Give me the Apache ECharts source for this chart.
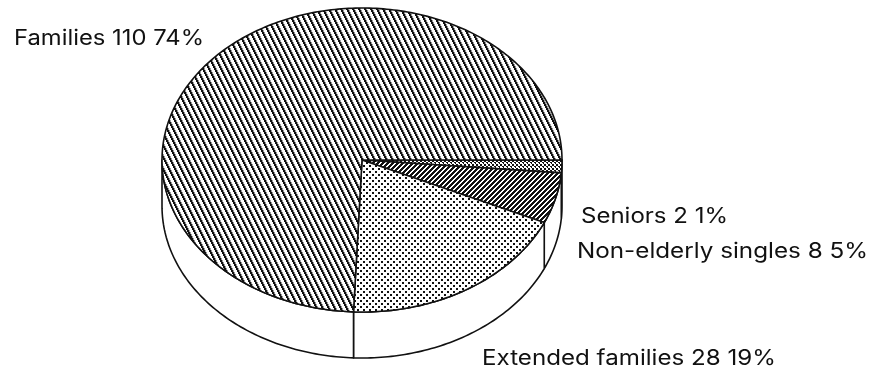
<!DOCTYPE html>
<html>
<head>
<meta charset="utf-8">
<style>html,body{margin:0;padding:0;background:#fff}#c{width:877px;height:372px}</style>
<script src="https://cdn.jsdelivr.net/npm/echarts@6/dist/echarts.min.js"></script>
</head>
<body>
<div id="c"></div>
<script>
const categories = ['Seniors', 'Non-elderly singles', 'Extended families', 'Families'];
const values = [2, 8, 28, 110];
const percents = ['1%', '5%', '19%', '74%'];

// layout
const CX = 362, CY = 160, RX = 200, RY = 152, DEPTH = 46;
const labelFont = 'Inter';
const labelSize = 21;
const labelBoxes = [
  {x: 581, y: 217, w: 147},
  {x: 577, y: 252, w: 291},
  {x: 482, y: 359, w: 294},
  {x: 14, y: 39, w: 190}
];

function tile(w, h, paint) {
  const c = document.createElement('canvas');
  c.width = w; c.height = h;
  const g = c.getContext('2d');
  g.fillStyle = '#fff'; g.fillRect(0, 0, w, h);
  g.fillStyle = '#111';
  paint(g);
  return {image: c, repeat: 'repeat'};
}
const patterns = [
  tile(4, 4, g => { g.fillRect(0, 0, 2, 2); g.fillRect(2, 2, 2, 1); g.fillRect(3, 3, 1, 1); }),
  tile(5, 5, g => { for (let y = 0; y < 5; y++) for (let k = 0; k < 3; k++) g.fillRect((4 - y + k) % 5, y, 1, 1); }),
  tile(6, 6, g => { g.fillRect(0, 0, 2, 2); g.fillRect(3, 3, 2, 2); }),
  tile(6, 12, g => {
    for (let y = 0; y < 12; y++) {
      const s = Math.floor(y / 2);
      g.fillStyle = '#111';
      for (let k = 0; k < 2; k++) g.fillRect((s + k) % 6, y, 1, 1);
      g.fillStyle = '#999';
      g.fillRect((s + 2) % 6, y, 1, 1);
    }
  })
];

const total = values.reduce((a, b) => a + b, 0);
const starts = [];
values.reduce((acc, v, i) => { starts[i] = acc; return acc + v; }, 0);

function pt(deg, dy) {
  const a = deg * Math.PI / 180;
  return [CX + RX * Math.cos(a), CY + RY * Math.sin(a) + (dy || 0)];
}
function arc(a0, a1, dy) {
  const n = Math.max(2, Math.ceil(Math.abs(a1 - a0)));
  const p = [];
  for (let i = 0; i <= n; i++) p.push(pt(a0 + (a1 - a0) * i / n, dy));
  return p;
}
const measure = document.createElement('canvas').getContext('2d');
measure.font = labelSize + 'px "' + labelFont + '"';

const lineStyle = {stroke: '#111', lineWidth: 1.6, lineJoin: 'round'};

function renderItem(params, api) {
  const i = params.dataIndex;
  const a0 = api.value(1) / total * 360;
  const a1 = (api.value(1) + api.value(0)) / total * 360;
  const children = [];
  const f0 = Math.max(a0, 0), f1 = Math.min(a1, 180);
  if (f1 > f0) {
    const top = arc(f0, f1, 0);
    const bot = arc(f1, f0, DEPTH);
    children.push({
      type: 'polygon',
      shape: {points: top.concat(bot)},
      style: Object.assign({fill: '#fff'}, lineStyle)
    });
  }
  children.push({
    type: 'polygon',
    shape: {points: [[CX, CY]].concat(arc(a0, a1, 0))},
    style: Object.assign({fill: patterns[i]}, lineStyle)
  });
  const text = categories[i] + ' ' + values[i] + ' ' + percents[i];
  const b = labelBoxes[i];
  children.push({
    type: 'text',
    x: b.x, y: b.y,
    scaleX: b.w / measure.measureText(text).width,
    style: {
      text: text,
      font: labelSize + 'px "' + labelFont + '"',
      fill: '#111',
      textAlign: 'left',
      textVerticalAlign: 'middle'
    }
  });
  return {type: 'group', children: children};
}

const chart = echarts.init(document.getElementById('c'), null, {renderer: 'canvas', width: 877, height: 372});
chart.setOption({
  animation: false,
  backgroundColor: '#fff',
  series: [{
    type: 'custom',
    coordinateSystem: 'none',
    silent: true,
    renderItem: renderItem,
    data: values.map((v, i) => [v, starts[i]])
  }]
});
</script>
</body>
</html>
